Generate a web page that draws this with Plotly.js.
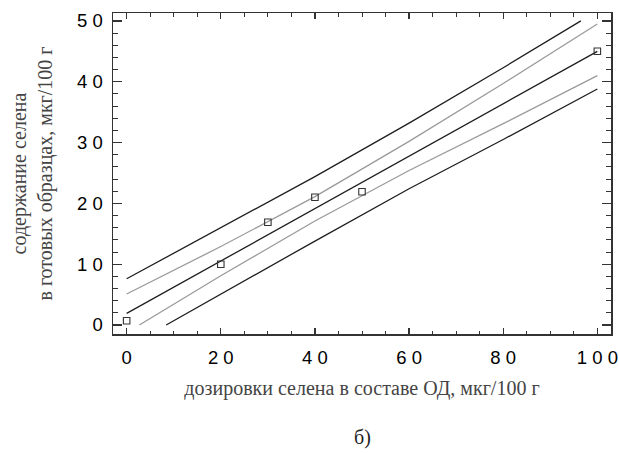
<!DOCTYPE html>
<html>
<head>
<meta charset="utf-8">
<script src="https://cdn.plot.ly/plotly-3.0.1.min.js"></script>
<style>html,body{margin:0;padding:0;background:#fff;}#chart{width:619px;height:453px;}</style>
</head>
<body>
<div id="chart"></div>
<script>
// Measured data points
const doseX = [0, 20, 30, 40, 50, 100];
const seleniumY = [0.7, 10, 16.9, 21, 21.9, 45];

// Regression line
const fitX = [0, 20, 40, 60, 80, 100];
const fitY = [1.9, 10.5, 19.1, 27.8, 36.4, 45.0];

// Confidence band (gray)
const confUpX = [0, 20, 40, 60, 80, 100];
const confUpY = [5.1, 12.9, 21.1, 30.2, 39.7, 49.5];
const confLoX = [2.7, 20, 40, 60, 80, 100];
const confLoY = [0, 8.1, 17.1, 25.4, 33.1, 41.0];

// Prediction band (dark)
const predUpX = [0, 20, 40, 60, 80, 96.5];
const predUpY = [7.6, 16.0, 24.4, 33.2, 42.3, 50.0];
const predLoX = [8.4, 20, 40, 60, 80, 100];
const predLoY = [0, 5.1, 13.8, 22.4, 30.5, 38.8];

// Tick labels
const xTickVals = [0, 20, 40, 60, 80, 100];
const xTickText = ['0', '2 0', '4 0', '6 0', '8 0', '1 0 0'];
const yTickVals = [0, 10, 20, 30, 40, 50];
const yTickText = ['0', '1 0', '2 0', '3 0', '4 0', '5 0'];

const dark = '#1e1e1e';
const gray = '#9a9a9a';

const traces = [
  {x: predUpX, y: predUpY, mode: 'lines', line: {color: dark, width: 1.3}, name: 'pred up'},
  {x: confUpX, y: confUpY, mode: 'lines', line: {color: gray, width: 1.3}, name: 'conf up'},
  {x: fitX, y: fitY, mode: 'lines', line: {color: dark, width: 1.3}, name: 'fit'},
  {x: confLoX, y: confLoY, mode: 'lines', line: {color: gray, width: 1.3}, name: 'conf low'},
  {x: predLoX, y: predLoY, mode: 'lines', line: {color: dark, width: 1.3}, name: 'pred low'},
  {x: doseX, y: seleniumY, mode: 'markers', name: 'data',
   marker: {symbol: 'square-open', size: 6.5, color: '#333', line: {width: 1.1, color: '#333'}}}
];

const axisCommon = {
  showgrid: false, zeroline: false, showline: true, linecolor: '#333', linewidth: 1.5,
  mirror: 'ticks', ticks: 'inside', tickcolor: '#333', tickwidth: 1.2,
  tickfont: {family: 'Liberation Sans, Arial, sans-serif', size: 18.5, color: '#000'},
  automargin: false
};

const titleFont = {family: 'Liberation Serif, Times New Roman, serif', size: 20, color: '#444'};

const layout = {
  width: 619, height: 453,
  margin: {l: 113, r: 8, t: 13, b: 119},
  paper_bgcolor: '#fff', plot_bgcolor: '#fff',
  showlegend: false,
  xaxis: Object.assign({}, axisCommon, {
    range: [-2.9, 102.9], tickmode: 'array', tickvals: xTickVals, ticktext: xTickText,
    ticklen: 6, ticklabelstandoff: 6,
    minor: {dtick: 5, ticks: 'inside', ticklen: 3.5, tickcolor: '#333', tickwidth: 1},
    title: {text: 'дозировки селена в составе ОД, мкг/100 г', standoff: 14, font: titleFont}
  }),
  yaxis: Object.assign({}, axisCommon, {
    range: [-1.48, 51.3], tickmode: 'array', tickvals: yTickVals, ticktext: yTickText,
    ticklen: 9, ticklabelstandoff: 5,
    minor: {dtick: 2, ticks: 'inside', ticklen: 5, tickcolor: '#333', tickwidth: 1},
    title: {text: 'содержание селена<br>в готовых образцах, мкг/100 г', standoff: 19, font: titleFont}
  }),
  annotations: [
    {text: 'б)', xref: 'paper', yref: 'paper', x: 0.5, y: 0, yshift: -103, showarrow: false,
     xanchor: 'center', yanchor: 'middle',
     font: {family: 'Liberation Serif, Times New Roman, serif', size: 20, color: '#222'}}
  ]
};

Plotly.newPlot('chart', traces, layout, {displayModeBar: false, staticPlot: true});
</script>
</body>
</html>
